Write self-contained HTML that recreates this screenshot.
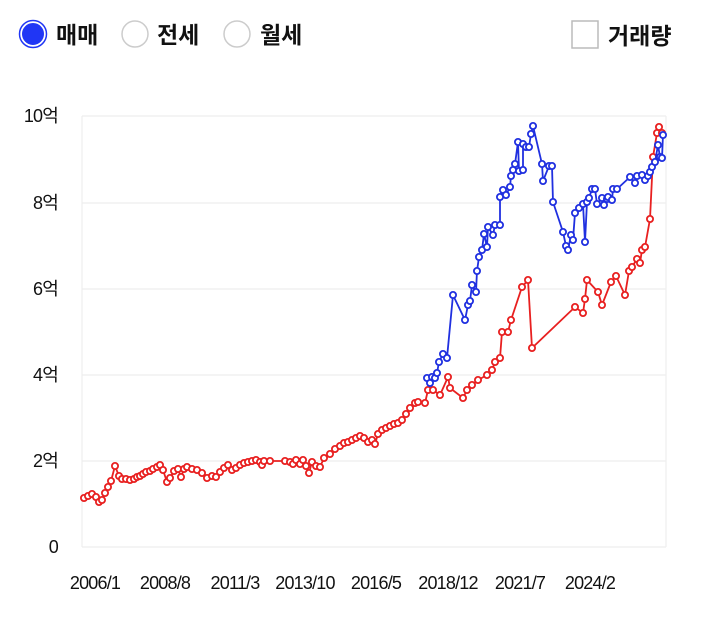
<!DOCTYPE html>
<html><head><meta charset="utf-8"><style>
body{margin:0;background:#fff;width:720px;height:633px;overflow:hidden;font-family:"Liberation Sans","Noto Sans CJK KR",sans-serif}
</style></head><body>
<svg width="720" height="633" xmlns="http://www.w3.org/2000/svg" font-family="Liberation Sans, Noto Sans CJK KR, sans-serif">
<circle cx="33" cy="34" r="12" fill="#2036f5" stroke="#fff" stroke-width="2"/>
<circle cx="33" cy="34" r="13.5" fill="none" stroke="#2036f5" stroke-width="1.5"/>
<text x="56" y="43" font-size="23" font-weight="bold" fill="#111">매매</text>
<circle cx="135" cy="34" r="13" fill="#fff" stroke="#ccc" stroke-width="1.5"/>
<text x="157" y="43" font-size="23" font-weight="bold" fill="#111">전세</text>
<circle cx="237" cy="34" r="13" fill="#fff" stroke="#ccc" stroke-width="1.5"/>
<text x="260" y="43" font-size="23" font-weight="bold" fill="#111">월세</text>
<rect x="572" y="21" width="26" height="27" fill="#fff" stroke="#bbb" stroke-width="1.5"/>
<text x="608" y="44" font-size="23" font-weight="bold" fill="#111">거래량</text>
<g stroke="#eee" stroke-width="1.2">
<line x1="82" y1="116" x2="666" y2="116"/><line x1="82" y1="203" x2="666" y2="203"/>
<line x1="82" y1="289" x2="666" y2="289"/><line x1="82" y1="375" x2="666" y2="375"/>
<line x1="82" y1="461" x2="666" y2="461"/><line x1="82" y1="547" x2="666" y2="547"/>
<line x1="82" y1="116" x2="82" y2="547"/><line x1="666" y1="116" x2="666" y2="547"/>
</g>
<g font-size="18" fill="#111" text-anchor="end" letter-spacing="-0.8">
<text x="58" y="122">10억</text><text x="58" y="209">8억</text><text x="58" y="295">6억</text>
<text x="58" y="381">4억</text><text x="58" y="467">2억</text><text x="58" y="553">0</text>
</g>
<g font-size="18" fill="#111" text-anchor="middle" letter-spacing="-0.8">
<text x="95" y="589">2006/1</text><text x="165" y="589">2008/8</text><text x="235" y="589">2011/3</text>
<text x="305" y="589">2013/10</text><text x="376" y="589">2016/5</text><text x="448" y="589">2018/12</text>
<text x="520" y="589">2021/7</text><text x="590" y="589">2024/2</text>
</g>
<g id="r" fill="#fff" stroke="#e82020" stroke-width="1.8"></g>
<g id="b" fill="#fff" stroke="#2030e0" stroke-width="1.8"></g>
</svg>
<script>
var R=[[84,498],[88,496],[92,494],[96,497],[99,502],[102,500],[105,493],[108,487],[111,481],[115,466],[119,476],[122,479],[126,479],[130,480],[134,479],[137,477],[140,476],[143,474],[146,472],[150,471],[153,469],[157,467],[160,465],[163,470],[167,482],[170,478],[174,471],[178,469],[181,477],[184,469],[187,467],[192,469],[197,470],[202,473],[207,478],[212,476],[216,477],[220,472],[224,468],[228,465],[232,470],[236,468],[240,465],[244,463],[248,462],[252,461],[256,460],[260,462],[262,465],[264,461],[270,461],[285,461],[290,462],[293,464],[296,460],[300,464],[303,460],[306,466],[309,473],[312,462],[316,466],[320,467],[324,458],[330,454],[335,449],[340,446],[344,443],[348,442],[352,440],[356,438],[360,436],[364,438],[368,442],[372,440],[375,444],[378,434],[382,430],[386,428],[390,426],[394,424],[398,423],[402,420],[406,414],[410,408],[415,403],[418,402],[425,403],[428,390],[433,390],[440,395],[448,377],[450,388],[463,398],[467,390],[472,385],[478,380],[487,375],[492,370],[495,362],[500,358],[502,332],[508,332],[511,320],[522,287],[528,280],[532,348],[575,307],[583,313],[585,299],[587,280],[598,292],[602,305],[611,282],[616,276],[625,295],[629,271],[632,267],[637,259],[640,263],[642,250],[645,247],[650,219],[653,157],[657,133],[659,127],[662,133]];
var B=[[427,378],[430,383],[432,377],[435,378],[437,373],[439,362],[443,354],[447,358],[453,295],[465,320],[468,305],[470,301],[472,285],[476,292],[477,271],[479,257],[482,250],[484,234],[487,247],[488,227],[493,235],[495,225],[500,225],[500,197],[503,190],[506,195],[510,187],[511,176],[513,170],[515,164],[518,142],[519,171],[523,170],[523,144],[526,147],[529,147],[531,134],[533,126],[542,164],[543,181],[549,166],[552,166],[553,202],[563,232],[566,246],[568,250],[571,235],[573,240],[575,213],[579,208],[583,204],[585,242],[587,202],[589,198],[592,189],[595,189],[597,204],[602,198],[604,205],[607,199],[608,197],[612,200],[613,189],[617,189],[630,177],[635,183],[637,176],[642,175],[645,180],[648,176],[650,172],[652,167],[655,162],[658,145],[660,157],[662,158],[663,135]];
function draw(id,d){var g=document.getElementById(id),s='<polyline fill="none" points="'+d.map(p=>p.join(',')).join(' ')+'"/>';d.forEach(p=>s+='<circle cx="'+p[0]+'" cy="'+p[1]+'" r="3.1"/>');g.innerHTML=s;}
draw('r',R);draw('b',B);
</script>
</body></html>
